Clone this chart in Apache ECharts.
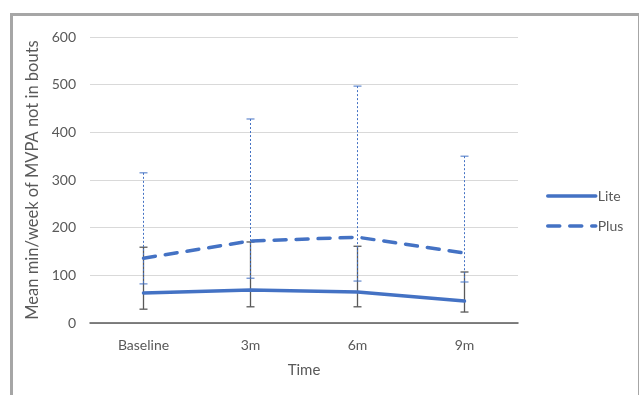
<!DOCTYPE html>
<html><head><meta charset="utf-8">
<script src="https://cdn.jsdelivr.net/npm/echarts@6/dist/echarts.min.js"></script>
<style>html,body{margin:0;padding:0;background:#fff;}#c{width:639px;height:395px;}</style>
</head><body><div id="c"></div>
<script>
var categories = ['Baseline', '3m', '6m', '9m'];
var liteMean = [63, 69, 65, 46];
var liteLow = [29, 34, 34, 23];
var liteHigh = [159, 170, 161, 107];
var plusMean = [136, 172, 180, 147];
var plusLow = [82, 94, 88, 86];
var plusHigh = [315, 428, 497, 350];
var yTicks = [0, 100, 200, 300, 400, 500, 600];

function errData(lo, hi) { return categories.map(function (c, i) { return [i, lo[i], hi[i]]; }); }
function errRender(color, dash, width) {
  return function (params, api) {
    var i = api.value(0);
    var top = api.coord([i, api.value(2)]);
    var bot = api.coord([i, api.value(1)]);
    var cap = 4;
    var style = { stroke: color, lineWidth: width, lineDash: dash };
    return { type: 'group', children: [
      { type: 'line', shape: { x1: top[0], y1: top[1], x2: bot[0], y2: bot[1] }, style: style },
      { type: 'line', shape: { x1: top[0] - cap, y1: top[1], x2: top[0] + cap, y2: top[1] }, style: { stroke: color, lineWidth: width } },
      { type: 'line', shape: { x1: bot[0] - cap, y1: bot[1], x2: bot[0] + cap, y2: bot[1] }, style: { stroke: color, lineWidth: width } }
    ]};
  };
}
var font = 'Lato, "Open Sans", sans-serif';
var chart = echarts.init(document.getElementById('c'));
chart.setOption({
  animation: false,
  backgroundColor: '#fff',
  graphic: [{ type: 'rect', left: 9, top: 12, shape: { width: 628, height: 400 }, style: { fill: 'none', stroke: '#a6a6a6', lineWidth: 3 }, silent: true }],
  grid: { left: 90, right: 121, top: 37, bottom: 72 },
  legend: {
    orient: 'vertical', left: 541, top: 184, itemGap: 16, itemWidth: 48, itemHeight: 12,
    itemStyle: { opacity: 0 },
    lineStyle: { width: 3.5, cap: 'round' },
    textStyle: { color: '#595959', fontSize: 14, fontFamily: font, padding: [0, 0, 0, -3] },
    data: [{ name: 'Lite' }, { name: 'Plus' }]
  },
  xAxis: {
    type: 'category', data: categories, boundaryGap: true,
    name: 'Time', nameLocation: 'middle', nameGap: 40,
    nameTextStyle: { color: '#595959', fontSize: 15, fontFamily: font },
    axisLine: { lineStyle: { color: '#595959', width: 1.5 } },
    axisTick: { show: false },
    axisLabel: { color: '#595959', fontSize: 14, fontFamily: font, margin: 15 }
  },
  yAxis: {
    type: 'value', min: 0, max: 600, interval: 100,
    name: 'Mean min/week of MVPA not in bouts', nameLocation: 'middle', nameGap: 46,
    nameTextStyle: { color: '#595959', fontSize: 16.5, fontFamily: font },
    axisLine: { show: false }, axisTick: { show: false },
    splitLine: { lineStyle: { color: '#d9d9d9', width: 1 } },
    axisLabel: { color: '#595959', fontSize: 14, fontFamily: font, margin: 14,
      formatter: function (v) { return yTicks.indexOf(v) >= 0 ? String(v) : ''; } }
  },
  series: [
    { name: 'Lite', type: 'line', data: liteMean, symbol: 'none', z: 5,
      lineStyle: { color: '#4472c4', width: 3.5, cap: 'round' }, itemStyle: { color: '#4472c4' } },
    { name: 'Plus', type: 'line', data: plusMean, symbol: 'none', z: 5,
      lineStyle: { color: '#4472c4', width: 3.5, type: [12, 10], cap: 'round' }, itemStyle: { color: '#4472c4' } },
    { name: 'LiteErr', type: 'custom', data: errData(liteLow, liteHigh), z: 3,
      renderItem: errRender('#595959', null, 1.3), encode: { x: 0, y: [1, 2] } },
    { name: 'PlusErr', type: 'custom', data: errData(plusLow, plusHigh), z: 4,
      renderItem: errRender('#4472c4', [2, 2], 1), encode: { x: 0, y: [1, 2] } }
  ]
});
</script></body></html>
